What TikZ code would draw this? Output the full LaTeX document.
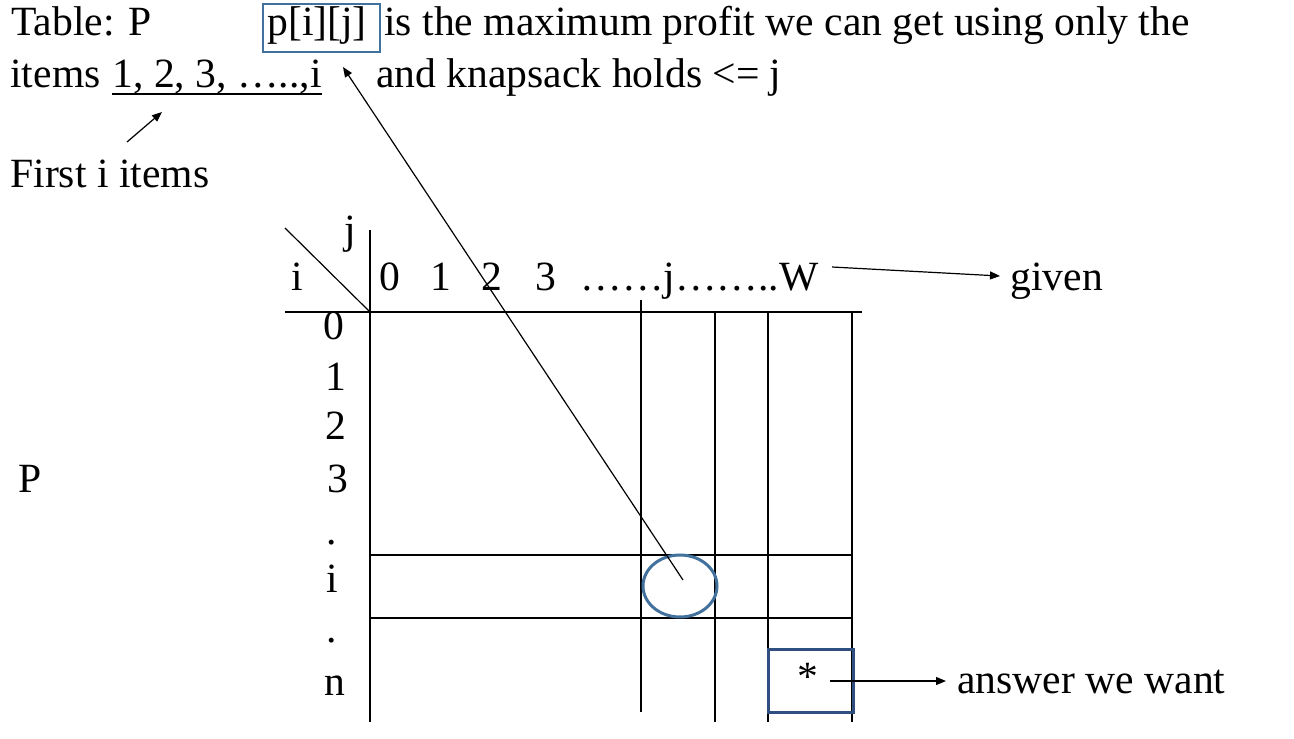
\documentclass[tikz,border=0pt]{standalone}
\usepackage{fontspec}
\setmainfont{Liberation Serif}
\usetikzlibrary{arrows.meta}
\definecolor{lblue}{HTML}{41719C}
\definecolor{dblue}{HTML}{2F4F80}
\tikzset{
  txt/.style={anchor=base west, inner sep=0pt, font=\fontsize{20.8}{24}\selectfont},
  ctxt/.style={anchor=base, inner sep=0pt, font=\fontsize{20.8}{24}\selectfont},
  thin line/.style={line width=0.6pt, black},
  arr/.style={thin line, -{Triangle[length=5pt,width=4pt]}},
}
\begin{document}
\begin{tikzpicture}[x=0.5pt,y=-0.5pt]
\useasboundingbox (0,0) rectangle (1294,738);
% header text
\node[txt] (table) at (11,36) {Table: P};
\node[txt] (pij) at (267,36) {p[i][j]};
\draw[lblue, line width=1.3pt] (263,4) rectangle (380,52);
\node[txt] (desc1) at (384,36) {is the maximum profit we can get using only the};
\node[txt] (items) at (10,88) {items};
\node[txt] (seq) at (112,88) {1, 2, 3, …..,i};
\draw[thin line] (112,94) -- (322,94);
\node[txt] (desc2) at (376,88) {and knapsack holds <= j};
\node[txt] (first) at (10,187) {First i items};
\coordinate (firstTail) at (127,142);
\coordinate (firstHead) at (162,112);
\draw[arr] (firstTail) -- (firstHead);
% table
\draw[thin line] (285,228) -- (370,312);
\draw[thin line] (370,230) -- (370,722);
\draw[thin line] (285,312) -- (862,312);
\draw[thin line] (641,300) -- (641,712);
\draw[thin line] (715,312) -- (715,722);
\draw[thin line] (768,312) -- (768,722);
\draw[thin line] (852,312) -- (852,722);
\draw[thin line] (370,555) -- (852,555);
\draw[thin line] (370,618) -- (852,618);
\node[ctxt] (jlab) at (350,243) {j};
\node[ctxt] (ilab) at (297,290) {i};
\node[ctxt] (c0) at (390,290) {0};
\node[ctxt] (c1) at (441,290) {1};
\node[ctxt] (c2) at (492,290) {2};
\node[ctxt] (c3) at (546,290) {3};
\node[txt] (cdots) at (580,290) {……j……..W};
\coordinate (givenTail) at (832,267);
\coordinate (givenHead) at (1000,276);
\draw[arr] (givenTail) -- (givenHead);
\node[txt] (given) at (1010,290) {given};
\node[ctxt] (r0) at (334,339) {0};
\node[ctxt] (r1) at (336,390) {1};
\node[ctxt] (r2) at (336,439) {2};
\node[ctxt] (r3) at (338,492) {3};
\node[ctxt] (rd1) at (332,544) {.};
\node[ctxt] (ri) at (332,592) {i};
\node[ctxt] (rd2) at (332,642) {.};
\node[ctxt] (rn) at (335,695) {n};
\node[txt] (P) at (18,492) {P};
% circle and long arrow
\draw[lblue, line width=1.5pt] (680,586) ellipse [x radius=37, y radius=31];
\coordinate (cc) at (683,580);
\coordinate (ptr) at (343,67);
\draw[arr] (cc) -- (ptr);
% answer box
\draw[dblue, line width=1.5pt] (768,649) rectangle (853,712);
\node[ctxt] (star) at (808,690) {*};
\coordinate (ansTail) at (830,681);
\coordinate (ansHead) at (946,681);
\draw[arr] (ansTail) -- (ansHead);
\node[txt] (ans) at (957,693) {answer we want};
\end{tikzpicture}
\end{document}
